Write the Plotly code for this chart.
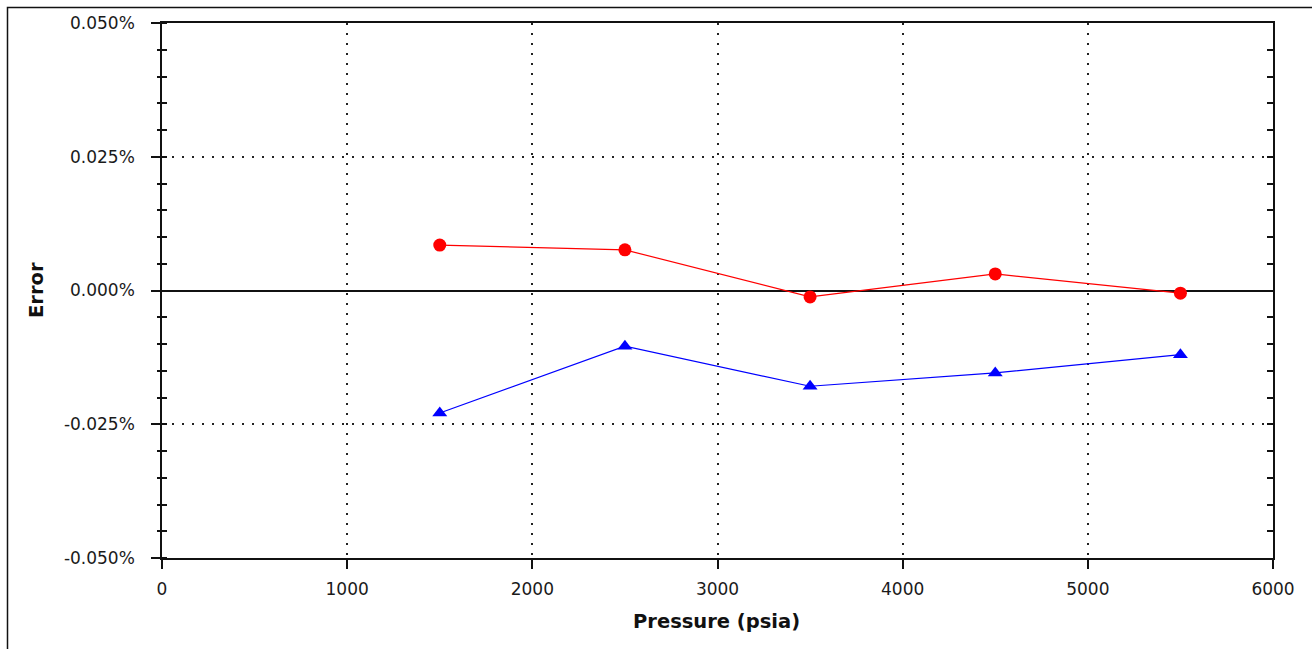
import plotly.graph_objects as go

# Pressure set points (psia)
pressure = [1500, 2500, 3500, 4500, 5500]

# Error values in percent
error_red = [0.0085, 0.0076, -0.0012, 0.0031, -0.0005]
error_blue = [-0.0229, -0.0104, -0.0179, -0.0154, -0.0120]

# Axis ticks
x_ticks = [0, 1000, 2000, 3000, 4000, 5000, 6000]
y_ticks = [-0.05, -0.025, 0.0, 0.025, 0.05]
y_tick_labels = ["-0.050%", "-0.025%", "0.000%", "0.025%", "0.050%"]

W, H = 1312, 649
L, R, T, B = 162, 39, 23, 91
pw, ph = W - L - R, H - T - B

fig = go.Figure()

fig.add_trace(go.Scatter(
    x=pressure, y=error_red, mode="lines+markers",
    line=dict(color="#ff0000", width=1.2),
    marker=dict(symbol="circle", size=13, color="#ff0000"),
    showlegend=False,
))
fig.add_trace(go.Scatter(
    x=pressure, y=error_blue, mode="lines+markers",
    line=dict(color="#0000ff", width=1.2),
    marker=dict(symbol="triangle-up", size=13, color="#0000ff"),
    showlegend=False,
))

# extra axes that only carry tick marks (right side, and outer half of left minor ticks)
fig.add_trace(go.Scatter(x=[None], y=[None], yaxis="y2", showlegend=False, hoverinfo="skip"))
fig.add_trace(go.Scatter(x=[None], y=[None], yaxis="y3", showlegend=False, hoverinfo="skip"))

tick_font = dict(family="DejaVu Sans, sans-serif", size=17, color="#1a1a1a")
title_font = dict(family="DejaVu Sans, sans-serif", size=19.5, color="#111111")
grid = dict(showgrid=True, gridcolor="#222", griddash="2px,8px", gridwidth=1.6)

fig.update_layout(
    width=W, height=H,
    margin=dict(l=L, r=R, t=T, b=B, pad=0),
    paper_bgcolor="white", plot_bgcolor="white",
    xaxis=dict(
        range=[0, 6000], tickvals=x_ticks, ticktext=[str(v) for v in x_ticks],
        showline=True, linecolor="#111", linewidth=1.5, mirror=True,
        ticks="outside", ticklen=9, tickcolor="#111", tickwidth=1.5,
        ticklabelstandoff=6,
        zeroline=False, tickfont=tick_font, **grid,
    ),
    yaxis=dict(
        range=[-0.05, 0.05], tickvals=y_ticks, ticktext=y_tick_labels,
        showline=True, linecolor="#111", linewidth=1.5, mirror=True,
        ticks="outside", ticklen=9, tickcolor="#111", tickwidth=1.5,
        ticklabelstandoff=13,
        minor=dict(dtick=0.005, ticks="inside", ticklen=5, tickcolor="#111", tickwidth=1.5, showgrid=False),
        zeroline=True, zerolinecolor="#111", zerolinewidth=1.6,
        tickfont=tick_font, **grid,
    ),
    yaxis2=dict(
        overlaying="y", side="right", range=[-0.05, 0.05],
        showticklabels=False, showgrid=False, zeroline=False, showline=False,
        tickvals=y_ticks, ticks="inside", ticklen=6, tickcolor="#111", tickwidth=1.5,
        minor=dict(dtick=0.005, ticks="inside", ticklen=6, tickcolor="#111", tickwidth=1.5, showgrid=False),
    ),
    yaxis3=dict(
        overlaying="y", side="left", range=[-0.05, 0.05],
        showticklabels=False, showgrid=False, zeroline=False, showline=False,
        tickvals=y_ticks, ticks="outside", ticklen=9, tickcolor="#111", tickwidth=1.5,
        minor=dict(dtick=0.005, ticks="outside", ticklen=4, tickcolor="#111", tickwidth=1.5, showgrid=False),
    ),
)

# axis titles
fig.add_annotation(
    text="<b>Pressure (psia)</b>", xref="paper", yref="paper",
    x=(716 - L) / pw, y=-(621 - T - ph) / ph, showarrow=False,
    xanchor="center", yanchor="middle", font=title_font,
)
fig.add_annotation(
    text="<b>Error</b>", xref="paper", yref="paper",
    x=(36 - L) / pw, y=(H - B - 290) / ph, showarrow=False, textangle=-90,
    xanchor="center", yanchor="middle", font=title_font,
)

# outer frame around the chart image
fig.add_shape(
    type="rect", xref="paper", yref="paper",
    x0=(7.5 - L) / pw, x1=(W + 20 - L) / pw,
    y0=-(H + 20 - T - ph) / ph, y1=(H - 7.5 - B) / ph,
    line=dict(color="#111", width=1.5), fillcolor="rgba(0,0,0,0)", layer="above",
)

fig.write_html("out.html")
